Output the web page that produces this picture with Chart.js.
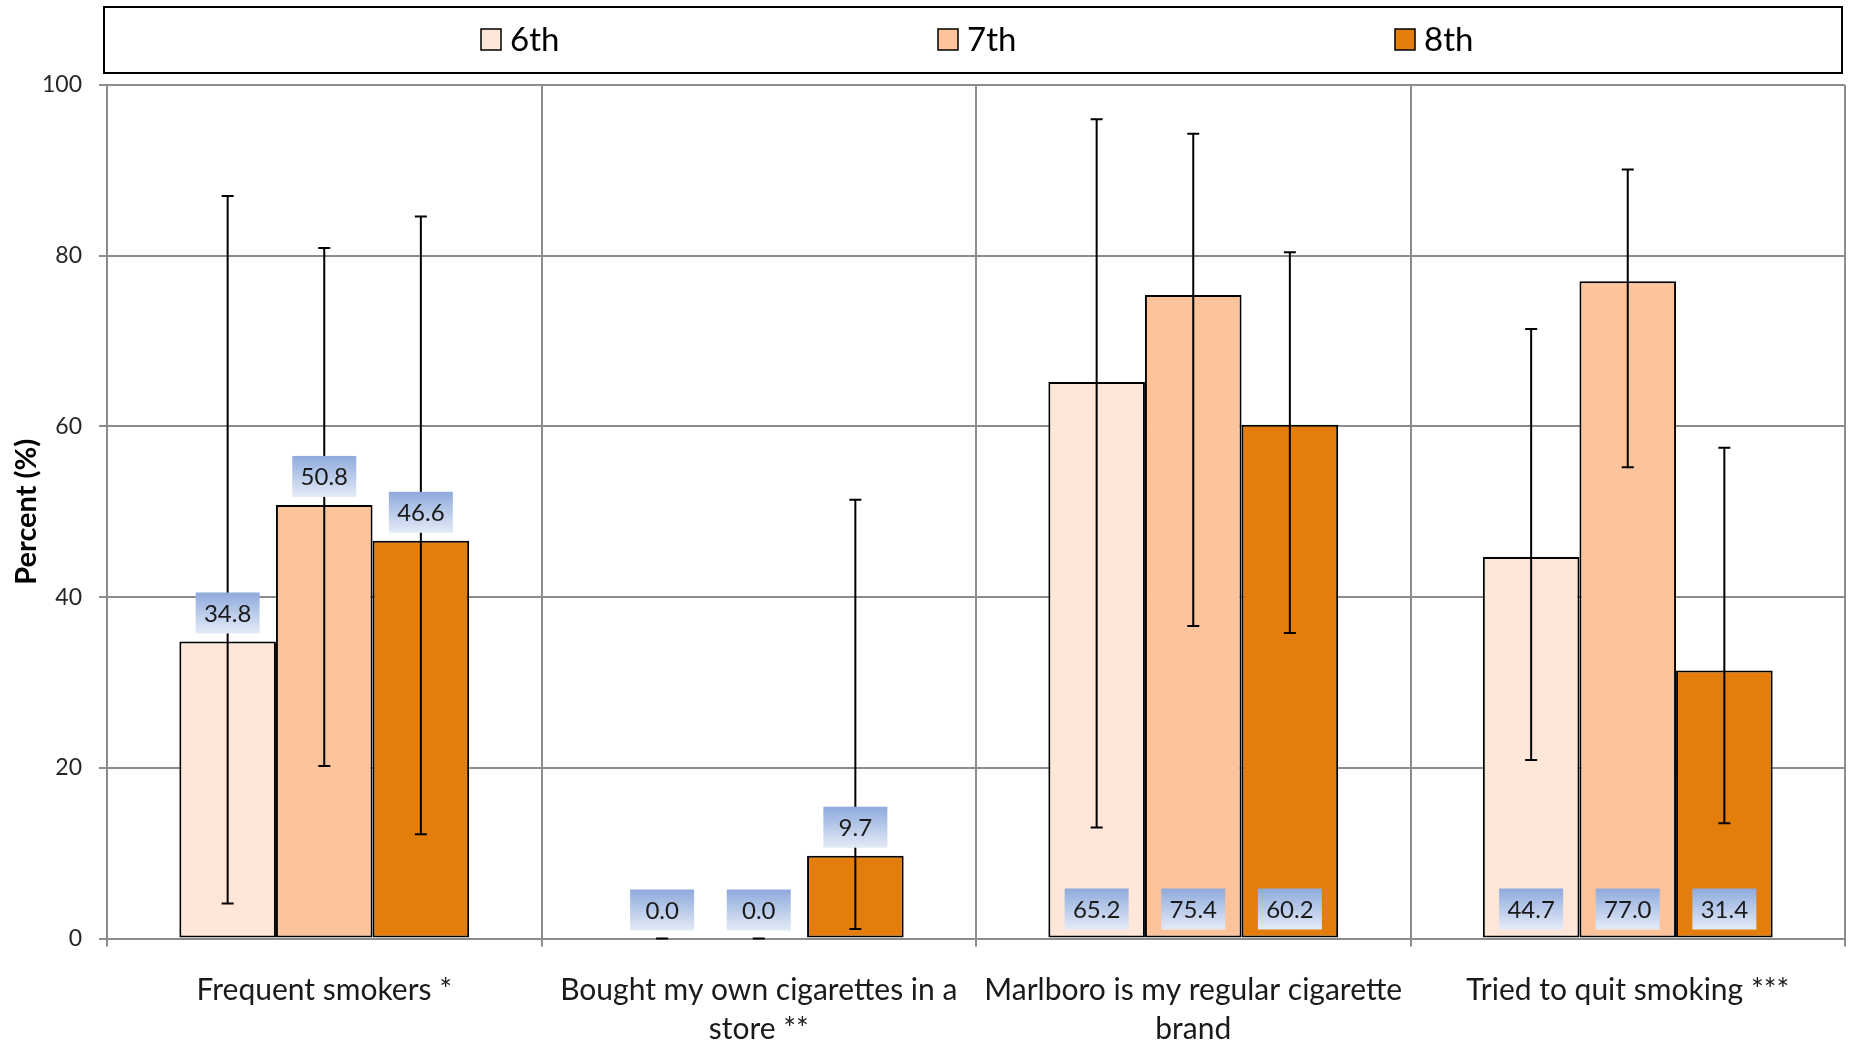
<!DOCTYPE html>
<html>
<head>
<meta charset="utf-8">
<script src="https://cdn.jsdelivr.net/npm/chart.js@4.4.1/dist/chart.umd.min.js"></script>
<style>
  html, body { margin: 0; padding: 0; background: #fff; }
</style>
</head>
<body>
<canvas id="chart" width="1849" height="1044"></canvas>
<script>
// categories and values
var categories = [
  ['Frequent smokers *'],
  ['Bought my own cigarettes in a', 'store **'],
  ['Marlboro is my regular cigarette', 'brand'],
  ['Tried to quit smoking ***']
];
var grades = ['6th', '7th', '8th'];

var sixth = [34.8, 0.0, 65.2, 44.7];
var seventh = [50.8, 0.0, 75.4, 77.0];
var eighth = [46.6, 9.7, 60.2, 31.4];

// error bar ends (low / high)
var sixthLow = [4.1, 0, 13.0, 20.9];
var sixthHigh = [87.0, 0, 96.0, 71.4];
var seventhLow = [20.2, 0, 36.6, 55.2];
var seventhHigh = [80.9, 0, 94.3, 90.1];
var eighthLow = [12.2, 1.1, 35.8, 13.5];
var eighthHigh = [84.6, 51.4, 80.4, 57.5];

// where the value box sits for each category
var labelPlacement = ['end', 'end', 'base', 'base'];

var yTicks = [0, 20, 40, 60, 80, 100];

Chart.defaults.font.family = 'Lato, "Open Sans", sans-serif';
Chart.defaults.color = '#1a1a1a';

var gridGrey = '#8c8c8c';

var errorsAndLabels = {
  id: 'errorsAndLabels',
  afterDatasetsDraw: function (chart) {
    var ctx = chart.ctx;
    var y = chart.scales.y;
    ctx.save();
    // error bars
    chart.data.datasets.forEach(function (ds, i) {
      var meta = chart.getDatasetMeta(i);
      meta.data.forEach(function (bar, j) {
        var top = y.getPixelForValue(ds.errHigh[j]);
        var bottom = y.getPixelForValue(ds.errLow[j]);
        ctx.strokeStyle = '#000';
        ctx.lineWidth = 2;
        ctx.beginPath();
        ctx.moveTo(bar.x, top);
        ctx.lineTo(bar.x, bottom);
        ctx.moveTo(bar.x - 6, top);
        ctx.lineTo(bar.x + 6, top);
        ctx.moveTo(bar.x - 6, bottom);
        ctx.lineTo(bar.x + 6, bottom);
        ctx.stroke();
      });
    });
    // value boxes
    var w = 64, h = 41;
    ctx.font = '24px Lato';
    ctx.textAlign = 'center';
    ctx.textBaseline = 'middle';
    chart.data.datasets.forEach(function (ds, i) {
      var meta = chart.getDatasetMeta(i);
      meta.data.forEach(function (bar, j) {
        var bottomEdge = labelPlacement[j] === 'end' ? bar.y - 8 : bar.base - 8;
        var topEdge = bottomEdge - h;
        var g = ctx.createLinearGradient(0, topEdge, 0, bottomEdge);
        g.addColorStop(0, '#8eaadc');
        g.addColorStop(1, '#e4ebf7');
        ctx.fillStyle = g;
        ctx.fillRect(bar.x - w / 2, topEdge, w, h);
        ctx.fillStyle = '#1a1a1a';
        ctx.fillText(ds.data[j].toFixed(1), bar.x, topEdge + h / 2 + 1);
      });
    });
    ctx.restore();
  }
};

var boxLegend = {
  id: 'boxLegend',
  afterDraw: function (chart) {
    var ctx = chart.ctx;
    var a = chart.chartArea;
    ctx.save();
    ctx.strokeStyle = '#000';
    ctx.lineWidth = 2;
    ctx.strokeRect(a.left - 3, 7, a.right - a.left, 66);
    var mid = (a.left + a.right) / 2 - 3;
    var step = 457;
    ctx.font = '33px Lato';
    ctx.textAlign = 'left';
    ctx.textBaseline = 'middle';
    chart.data.datasets.forEach(function (ds, i) {
      var x = mid + (i - 1) * step - 35;
      ctx.fillStyle = ds.backgroundColor;
      ctx.fillRect(x, 29, 20, 21);
      ctx.lineWidth = 1.5;
      ctx.strokeStyle = '#000';
      ctx.strokeRect(x, 29, 20, 21);
      ctx.fillStyle = '#000';
      ctx.fillText(ds.label, x + 29, 40);
    });
    ctx.restore();
  }
};

function makeSet(label, values, low, high, color) {
  return {
    label: label,
    data: values,
    errLow: low,
    errHigh: high,
    backgroundColor: color,
    borderColor: '#000',
    borderWidth: function (c) { return c.raw === 0 ? 0 : 2; },
    borderSkipped: false
  };
}

new Chart(document.getElementById('chart'), {
  type: 'bar',
  data: {
    labels: categories,
    datasets: [
      makeSet(grades[0], sixth, sixthLow, sixthHigh, '#fee6d8'),
      makeSet(grades[1], seventh, seventhLow, seventhHigh, '#fdc49b'),
      makeSet(grades[2], eighth, eighthLow, eighthHigh, '#e37d0b')
    ]
  },
  options: {
    responsive: false,
    animation: false,
    categoryPercentage: 0.667,
    barPercentage: 1.0,
    layout: { padding: { top: 85, right: 4, left: 0, bottom: 0 } },
    plugins: {
      legend: { display: false },
      tooltip: { enabled: false }
    },
    scales: {
      x: {
        afterFit: function (s) { s.height = 105.5; },
        grid: { color: gridGrey, lineWidth: 2, tickLength: 8, offset: true },
        border: { color: gridGrey, width: 2 },
        ticks: {
          font: { size: 30, lineHeight: 1.3 },
          color: '#1a1a1a',
          padding: 24,
          maxRotation: 0,
          autoSkip: false
        }
      },
      y: {
        min: 0,
        max: 100,
        afterFit: function (s) { s.width = 107; },
        afterBuildTicks: function (s) {
          s.ticks = yTicks.map(function (v) { return { value: v }; });
        },
        grid: { color: gridGrey, lineWidth: 2, tickLength: 8 },
        border: { color: gridGrey, width: 2 },
        ticks: { font: { size: 23 }, color: '#262626', padding: 17 },
        title: {
          display: true,
          text: 'Percent (%)',
          font: { size: 29, weight: 'bold' },
          color: '#000',
          padding: { top: 9, bottom: 0 }
        }
      }
    }
  },
  plugins: [errorsAndLabels, boxLegend]
});
</script>
</body>
</html>
